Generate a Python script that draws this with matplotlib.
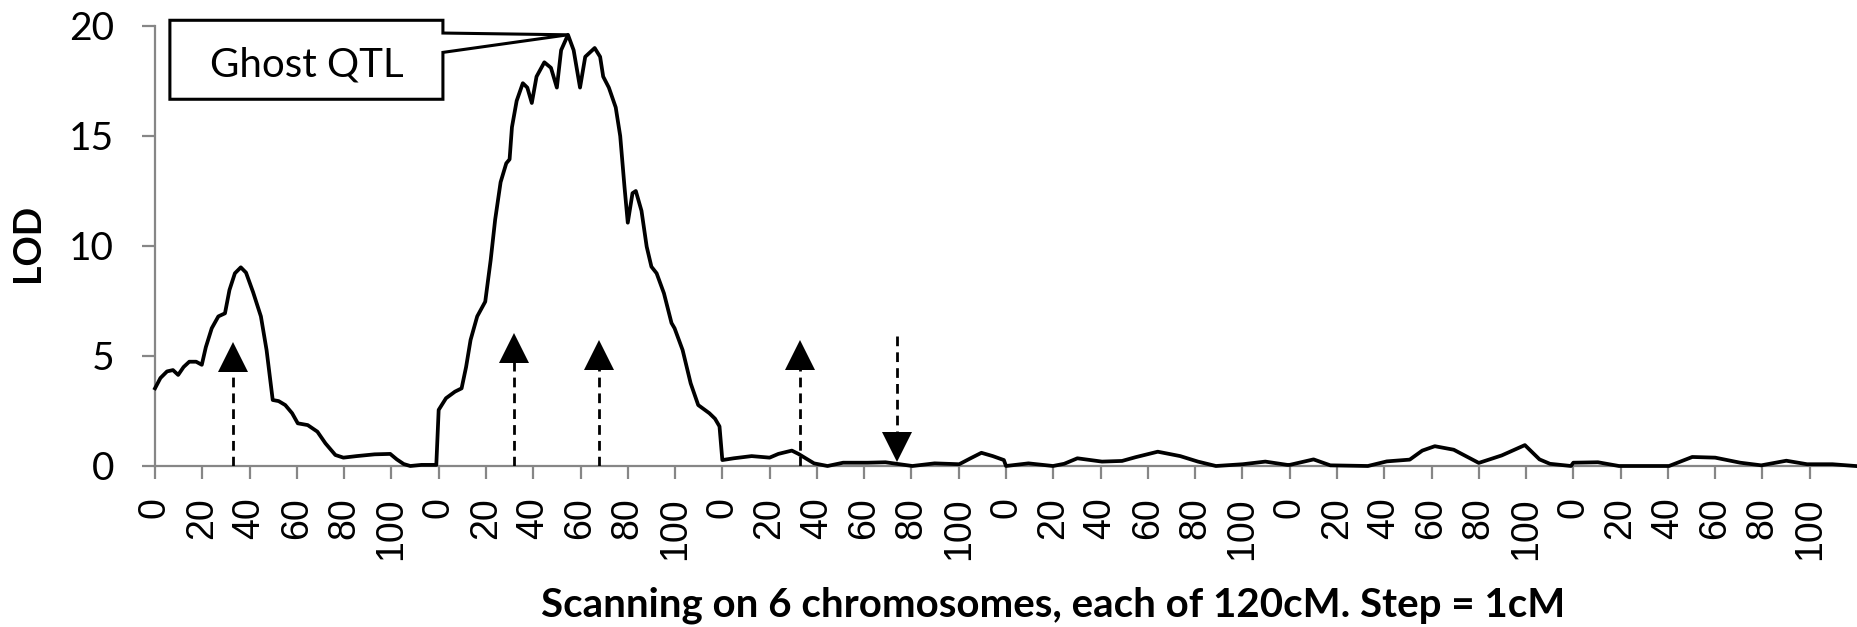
import matplotlib
matplotlib.use("Agg")
import matplotlib.pyplot as plt
from matplotlib.patches import Polygon
import numpy as np

# ---------------- data ----------------
chrom_length = 120          # cM per chromosome (positions 0..119)
n_chrom = 6

chr1_cm = [0, 2.3, 5.1, 7.6, 9.8, 12.1, 14.5, 17.4, 19.8, 21.5, 24, 26.8, 29.6, 31.5, 33.8,
           36.3, 38.5, 41.5, 44.8, 47.2, 49.8, 52.3, 55.1, 58, 60.4, 64.6, 68.7, 72.1, 76.3,
           79.7, 85.3, 92.9, 99.5, 102.3, 105.2, 108, 112.7, 119]
chr1_lod = [3.53, 4.0, 4.3, 4.36, 4.14, 4.5, 4.74, 4.74, 4.6, 5.4, 6.26, 6.8, 6.94, 8.0, 8.76,
            9.03, 8.79, 7.9, 6.8, 5.27, 3.0, 2.95, 2.77, 2.4, 1.94, 1.86, 1.56, 1.03, 0.5,
            0.38, 0.45, 0.53, 0.55, 0.3, 0.09, 0.0, 0.05, 0.05]

chr2_cm = [0, 3.1, 6.9, 9.7, 11.6, 13.5, 16.3, 19.7, 22, 23.9, 26.2, 28.6, 30, 31, 33, 35.6,
           37.5, 39.4, 41.4, 44.7, 47.5, 50, 51.8, 54.7, 57.1, 59.8, 62, 66, 68.3, 69.6, 72,
           74.9, 76.8, 78.6, 80, 82, 83.4, 85.8, 88, 90, 92.2, 95.3, 98.5, 99.8, 103.2, 106.6,
           109.8, 114.5, 116.9, 118.8]
chr2_lod = [2.55, 3.08, 3.38, 3.53, 4.5, 5.73, 6.8, 7.47, 9.36, 11.2, 12.9, 13.76, 13.94, 15.4,
            16.6, 17.4, 17.2, 16.5, 17.7, 18.35, 18.1, 17.2, 18.9, 19.6, 18.9, 17.2, 18.6, 19.0,
            18.6, 17.7, 17.2, 16.3, 15.0, 12.7, 11.06, 12.4, 12.5, 11.6, 9.97, 9.06, 8.76, 7.85,
            6.5, 6.26, 5.27, 3.76, 2.77, 2.4, 2.15, 1.8]

chr3_cm = [0, 4.8, 12.4, 20, 23.7, 29.4, 32.2, 38.8, 44.5, 51.1, 61.5, 69, 73.8, 80.4, 89.8,
           100.2, 105, 109.6, 114.4, 119.1]
chr3_lod = [0.27, 0.35, 0.45, 0.38, 0.55, 0.7, 0.55, 0.12, 0.0, 0.15, 0.15, 0.17, 0.1, 0.0,
            0.12, 0.08, 0.35, 0.6, 0.45, 0.27]

chr4_cm = [0, 9.5, 19.9, 24.6, 30.2, 40.6, 49.1, 54.8, 64.2, 73.7, 81.2, 88.8, 100.1, 109.7, 119]
chr4_lod = [0.0, 0.12, 0.0, 0.1, 0.35, 0.2, 0.23, 0.4, 0.65, 0.45, 0.2, 0.0, 0.08, 0.2, 0.05]

chr5_cm = [0, 10.1, 17.2, 33.1, 41.1, 50.8, 56.1, 61.4, 69.4, 80, 89.7, 99.5, 105.7, 110.1, 119]
chr5_lod = [0.05, 0.3, 0.03, 0.0, 0.21, 0.29, 0.7, 0.9, 0.74, 0.14, 0.48, 0.95, 0.3, 0.1, 0.0]

chr6_cm = [0, 10.4, 19.3, 40.5, 50.3, 60, 70.6, 79.5, 90.1, 98.9, 109.6, 119.3]
chr6_lod = [0.15, 0.17, 0.0, 0.0, 0.41, 0.38, 0.15, 0.03, 0.24, 0.08, 0.08, 0.0]

chromosome_cm = [chr1_cm, chr2_cm, chr3_cm, chr4_cm, chr5_cm, chr6_cm]
chromosome_lod = [chr1_lod, chr2_lod, chr3_lod, chr4_lod, chr5_lod, chr6_lod]

# simulated QTL positions (chromosome number, cM) and arrow tip LOD
qtl_up_chrom = [1, 2, 2, 3]
qtl_up_cm = [33, 32, 68, 33]
qtl_up_tip = [5.5, 5.9, 5.6, 5.6]
qtl_down_chrom = [3]
qtl_down_cm = [74]
qtl_down_top = [5.9]
qtl_down_tip = [0.3]

ghost_label = "Ghost QTL"
ghost_chrom, ghost_cm, ghost_lod = 2, 54.7, 19.6

tick_step = 20
yticks = [0, 5, 10, 15, 20]
xlabel = "Scanning on 6 chromosomes, each of 120cM. Step = 1cM"
ylabel = "LOD"

# ---------------- figure ----------------
W, H, DPI = 1857, 627, 100
fig = plt.figure(figsize=(W / DPI, H / DPI), dpi=DPI)
ax = fig.add_axes([155 / W, 1 - 466 / H, (W - 155) / W, (466 - 26) / H])

x_all, y_all = [], []
for k, (cms, lods) in enumerate(zip(chromosome_cm, chromosome_lod)):
    x_all.extend([k * chrom_length + c for c in cms])
    y_all.extend(lods)
ax.plot(x_all, y_all, color="black", lw=2.7, solid_joinstyle="round", zorder=3, clip_on=False)

# arrows
gray = "#868686"
head_h = 1.1  # LOD units
for c, cm, tip in zip(qtl_up_chrom, qtl_up_cm, qtl_up_tip):
    xp = (c - 1) * chrom_length + cm
    ax.plot([xp, xp], [0, tip - head_h * 0.9], color="black", lw=2.0, dashes=(3.5, 2.2), zorder=4)
    ax.plot([xp], [tip - head_h / 2], marker="^", ms=21, color="black", mew=0, zorder=5)
for c, cm, top, tip in zip(qtl_down_chrom, qtl_down_cm, qtl_down_top, qtl_down_tip):
    xp = (c - 1) * chrom_length + cm
    ax.plot([xp, xp], [top, tip + head_h * 0.9], color="black", lw=2.0, dashes=(3.5, 2.2), zorder=4)
    ax.plot([xp], [tip + head_h / 2], marker="v", ms=21, color="black", mew=0, zorder=5)

# callout
px = (ghost_chrom - 1) * chrom_length + ghost_cm
bx0, bx1, by0, by1 = 6.3, 121.8, 16.67, 20.26
poly = Polygon([(bx0, by0), (bx0, by1), (bx1, by1), (bx1, 19.68), (px, ghost_lod),
                (bx1, 18.8), (bx1, by0)], closed=True, facecolor="white",
               edgecolor="black", lw=2.2, zorder=6, clip_on=False, joinstyle="miter")
ax.add_patch(poly)
ax.text((bx0 + bx1) / 2, 18.25, ghost_label, ha="center", va="center",
        fontsize=29, family="Lato", zorder=7)

# axes styling
ax.set_xlim(0, n_chrom * chrom_length)
ax.set_ylim(0, 20)
for s in ["top", "right"]:
    ax.spines[s].set_visible(False)
for s in ["left", "bottom"]:
    ax.spines[s].set_color(gray)
    ax.spines[s].set_linewidth(1.6)

xt = np.arange(0, n_chrom * chrom_length, tick_step)
ax.set_xticks(xt)
ax.set_xticklabels([str(int(v % chrom_length)) for v in xt], rotation=90,
                   fontsize=27, family="Liberation Sans")
ax.set_yticks(yticks)
ax.set_yticklabels([str(v) for v in yticks], fontsize=28, family="Lato")
ax.tick_params(axis="both", direction="out", length=9.4, width=1.6, color=gray)
ax.tick_params(axis="y", pad=20)
ax.tick_params(axis="x", pad=13)

fig.text(1053 / W, 1 - 617 / H, xlabel, ha="center", va="baseline",
         fontsize=29, fontweight="bold", family="Lato")
fig.text(28 / W, 1 - 243 / H, ylabel, ha="center", va="center", rotation=90,
         fontsize=27, fontweight="bold", family="Lato")

fig.savefig("out.png", dpi=DPI)
